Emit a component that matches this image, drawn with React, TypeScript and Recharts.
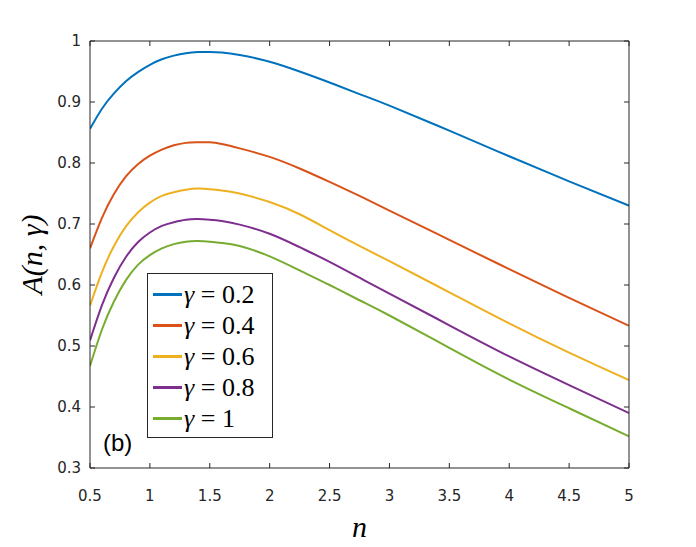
import React from "react";
import { Legend, Line, LineChart, XAxis, YAxis } from "recharts";

const nValues = [0.5, 0.6, 0.7, 0.8, 0.9, 1.0, 1.1, 1.2, 1.3, 1.4, 1.5, 1.6, 1.75, 2.0, 2.25, 2.5, 2.75, 3.0, 3.5, 4.0, 4.5, 5.0];

const gamma02 = [0.856, 0.889, 0.914, 0.934, 0.949, 0.961, 0.97, 0.976, 0.98, 0.982, 0.982, 0.981, 0.977, 0.966, 0.95, 0.932, 0.913, 0.894, 0.853, 0.811, 0.77, 0.73];
const gamma04 = [0.66, 0.71, 0.749, 0.778, 0.798, 0.812, 0.822, 0.829, 0.833, 0.834, 0.834, 0.831, 0.824, 0.81, 0.791, 0.769, 0.746, 0.722, 0.674, 0.626, 0.579, 0.533];
const gamma06 = [0.566, 0.621, 0.664, 0.696, 0.719, 0.735, 0.746, 0.752, 0.756, 0.758, 0.757, 0.755, 0.75, 0.736, 0.716, 0.69, 0.664, 0.639, 0.588, 0.537, 0.489, 0.444];
const gamma08 = [0.509, 0.567, 0.612, 0.646, 0.67, 0.686, 0.697, 0.703, 0.707, 0.708, 0.707, 0.705, 0.699, 0.684, 0.662, 0.638, 0.612, 0.586, 0.534, 0.483, 0.436, 0.39];
const gamma10 = [0.467, 0.527, 0.573, 0.608, 0.633, 0.649, 0.66, 0.667, 0.671, 0.672, 0.671, 0.669, 0.664, 0.647, 0.624, 0.6, 0.575, 0.55, 0.497, 0.445, 0.398, 0.352];

const xTicks = [0.5, 1, 1.5, 2, 2.5, 3, 3.5, 4, 4.5, 5];
const yTicks = [0.3, 0.4, 0.5, 0.6, 0.7, 0.8, 0.9, 1];

const series = [
  { key: "g02", label: "0.2", values: gamma02, color: "#0072BD" },
  { key: "g04", label: "0.4", values: gamma04, color: "#D95319" },
  { key: "g06", label: "0.6", values: gamma06, color: "#EDB120" },
  { key: "g08", label: "0.8", values: gamma08, color: "#7E2F8E" },
  { key: "g10", label: "1", values: gamma10, color: "#77AC30" },
];

const data = nValues.map((n, i) => {
  const row: Record<string, number> = { n };
  series.forEach((s) => (row[s.key] = s.values[i]));
  return row;
});

const axisColor = "#262626";
const serif = "Liberation Serif";
const tickText = { fontFamily: "DejaVu Sans", fontSize: 15, fill: "#262626" };
const TICK = 5;
const BOTTOM_GAP = 22;
const LEFT_GAP = 9;

// MATLAB-style ticks: marks point into the plot box
function BottomTick({ x, y, payload }: any) {
  const edge = y - BOTTOM_GAP;
  return (
    <g>
      <line x1={x} x2={x} y1={edge} y2={edge - TICK} stroke={axisColor} />
      <text x={x} y={y} dy="0.71em" textAnchor="middle" {...tickText}>
        {String(payload.value)}
      </text>
    </g>
  );
}

function LeftTick({ x, y, payload }: any) {
  const edge = x + LEFT_GAP;
  return (
    <g>
      <line x1={edge} x2={edge + TICK} y1={y} y2={y} stroke={axisColor} />
      <text x={x} y={y} dy="0.355em" textAnchor="end" {...tickText}>
        {String(payload.value)}
      </text>
    </g>
  );
}

function TopTick({ x, y }: any) {
  return <line x1={x} x2={x} y1={y} y2={y + TICK} stroke={axisColor} />;
}

function RightTick({ x, y }: any) {
  return <line x1={x} x2={x - TICK} y1={y} y2={y} stroke={axisColor} />;
}

function LegendBox({ payload }: any) {
  return (
    <div
      style={{
        border: "1px solid #262626",
        background: "#fff",
        padding: "5px 8px 3px 5px",
        width: 111,
        boxSizing: "content-box",
      }}
    >
      {(payload || []).map((p: any) => {
        const s = series.find((x) => x.key === p.dataKey);
        return (
          <div key={p.dataKey} style={{ display: "flex", alignItems: "center", height: 31 }}>
            <span style={{ width: 29, height: 2.5, background: p.color, marginRight: 2 }} />
            <span style={{ fontFamily: serif, fontSize: 26, color: "#000", whiteSpace: "nowrap" }}>
              <i>γ</i> = {s ? s.label : ""}
            </span>
          </div>
        );
      })}
    </div>
  );
}

export default function App() {
  return (
    <div style={{ position: "absolute", left: 0, top: 0, width: 696, height: 547, background: "#fff" }}>
      <LineChart
        width={696}
        height={547}
        data={data}
        margin={{ top: 40, right: 66, left: 30, bottom: 19 }}
      >
        <XAxis
          dataKey="n"
          type="number"
          domain={[0.5, 5]}
          ticks={xTicks}
          allowDataOverflow
          height={60}
          tickSize={0}
          tickLine={false}
          tickMargin={BOTTOM_GAP}
          stroke={axisColor}
          tick={<BottomTick />}
          label={{
            value: "n",
            position: "insideBottom",
            offset: -9,
            style: { fontFamily: serif, fontStyle: "italic", fontSize: 30, fill: "#000" },
          }}
        />
        <XAxis
          xAxisId="top"
          dataKey="n"
          type="number"
          orientation="top"
          domain={[0.5, 5]}
          ticks={xTicks}
          allowDataOverflow
          height={1}
          tickSize={0}
          tickLine={false}
          tickMargin={0}
          tick={<TopTick />}
          stroke={axisColor}
        />
        <YAxis
          type="number"
          domain={[0.3, 1]}
          ticks={yTicks}
          allowDataOverflow
          width={60}
          tickSize={0}
          tickLine={false}
          tickMargin={LEFT_GAP}
          stroke={axisColor}
          tick={<LeftTick />}
          label={{
            value: "A(n, γ)",
            angle: -90,
            position: "insideLeft",
            offset: 1,
            style: { fontFamily: serif, fontStyle: "italic", fontSize: 30, fill: "#000", textAnchor: "middle" },
          }}
        />
        <YAxis
          yAxisId="right"
          type="number"
          orientation="right"
          domain={[0.3, 1]}
          ticks={yTicks}
          allowDataOverflow
          width={1}
          tickSize={0}
          tickLine={false}
          tickMargin={0}
          tick={<RightTick />}
          stroke={axisColor}
        />
        <Legend
          layout="vertical"
          verticalAlign="middle"
          align="center"
          content={<LegendBox />}
          wrapperStyle={{ left: 147, top: 273, width: "auto" }}
        />
        {series.map((s) => (
          <Line
            key={s.key}
            dataKey={s.key}
            type="natural"
            stroke={s.color}
            strokeWidth={2}
            dot={false}
            isAnimationActive={false}
          />
        ))}
      </LineChart>
      <div
        style={{
          position: "absolute",
          left: 103,
          top: 429,
          fontFamily: "Liberation Sans",
          fontSize: 24,
          color: "#000",
        }}
      >
        (b)
      </div>
    </div>
  );
}
